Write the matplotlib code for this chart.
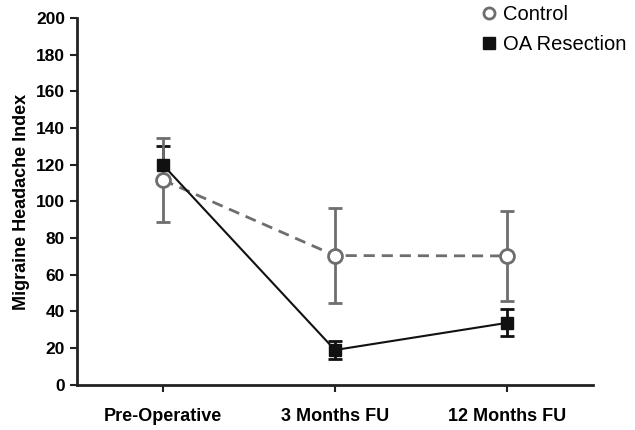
import matplotlib
matplotlib.use("Agg")
import matplotlib.pyplot as plt
from matplotlib.lines import Line2D

plt.rcParams.update({"font.family": ["Liberation Sans", "DejaVu Sans"]})

categories = ["Pre-Operative", "3 Months FU", "12 Months FU"]
control_mean = [111.7, 70.5, 70.3]
control_err = [23.0, 25.8, 24.5]
oa_mean = [120.0, 19.0, 33.8]
oa_err = [10.0, 4.8, 7.3]

GRAY = "#6e6e6e"
INK = "#111111"

fig = plt.figure(figsize=(6.35, 4.3), dpi=100)
ax = fig.add_axes([0.121, 0.105, 0.813, 0.853])
x = list(range(len(categories)))

ax.errorbar(x, oa_mean, yerr=oa_err, fmt="none", ecolor=INK, elinewidth=2,
            capsize=4.7, capthick=2, zorder=2)
ax.errorbar(x, control_mean, yerr=control_err, fmt="none", ecolor=GRAY,
            elinewidth=2, capsize=4.7, capthick=2, zorder=3)
ax.plot(x, control_mean, ls=(0, (4, 2.5)), color=GRAY, lw=2, marker="o",
        ms=10, mfc="white", mec=GRAY, mew=2, zorder=4)
ax.plot(x, oa_mean, ls="-", color=INK, lw=1.5, marker="s", ms=9,
        mfc=INK, mec=INK, zorder=5)

ax.set_xlim(-0.5, 2.5)
ax.set_ylim(0, 200)
ax.set_yticks(range(0, 201, 20))
ax.set_xticks(x)
ax.set_xticklabels(categories)
for s in ("top", "right"):
    ax.spines[s].set_visible(False)
for s in ("left", "bottom"):
    ax.spines[s].set_linewidth(2)
    ax.spines[s].set_color("#222222")
ax.tick_params(width=1.5, length=5, color="#222222", labelsize=12.5)
ax.tick_params(axis="x", pad=12, labelsize=13)
for lab in ax.get_xticklabels() + ax.get_yticklabels():
    lab.set_fontweight("bold")
ax.set_ylabel("Migraine Headache Index", fontsize=13, fontweight="bold", labelpad=4)

handles = [
    Line2D([], [], ls="none", marker="o", ms=8, mfc="white", mec=GRAY, mew=2),
    Line2D([], [], ls="none", marker="s", ms=8, mfc=INK, mec=INK),
]
fig.legend(handles, ["Control", "OA Resection"], loc="upper left",
           bbox_to_anchor=(0.73, 1.03), frameon=False, fontsize=14.5,
           handlelength=0.7, handletextpad=0.35, labelspacing=0.55)

fig.savefig("out.png", dpi=100)
